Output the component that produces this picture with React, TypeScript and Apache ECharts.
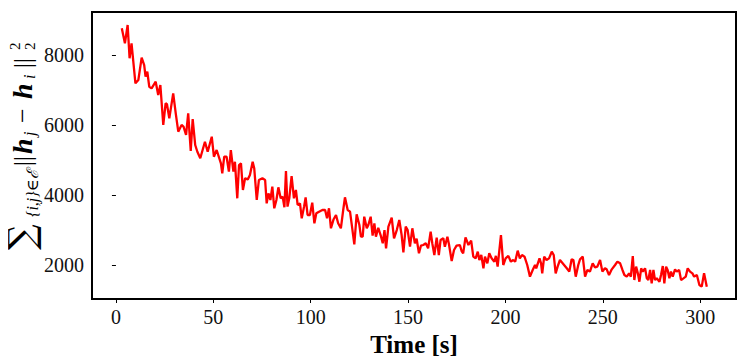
import React, { useEffect, useRef } from "react";
import * as echarts from "echarts";

// [time (s), value] readings from the reference picture
const segmentA: [number, number][] = [
  [3, 8772], [4.6, 8343], [6, 8866], [7, 7914], [8, 8343], [10, 7199], [11.5, 7293], [13.2, 7932],
  [14.5, 7722], [15.2, 7388], [16.1, 7530], [17.1, 7101], [18.3, 7055], [20.4, 7245], [21.7, 6864],
  [22.8, 7150], [24.3, 6006], [25.5, 6627], [26.2, 6600], [27.4, 6197], [29.4, 6912], [30.7, 6340],
  [32, 5815], [33.7, 6006], [34.7, 5960], [36, 5720], [37.1, 6340], [38.4, 5262], [39.4, 6177],
  [40.7, 5433], [41.8, 5241], [43.3, 5053], [45.7, 5528], [47.1, 5241], [49.2, 5671], [50.3, 5098],
  [51.7, 5290], [53.9, 4910], [54.6, 4624], [55.6, 5098], [56.8, 5098], [58, 4670], [59, 5290], [60.3, 4670],
];
const segmentB: [number, number][] = [
  [61.1, 4955], [62.3, 3908], [63.2, 4861], [64.2, 4910], [65.2, 4146], [66.3, 4480], [67.7, 4450],
  [68.8, 4575], [70.2, 4955], [71, 4770], [72.3, 3860], [73.4, 4432], [75.2, 4480], [76.6, 4432],
  [77.4, 3765], [78.3, 4050], [79.3, 3860], [80.3, 4240], [81.3, 3622], [82.4, 3860], [83.4, 4223],
  [84.6, 3908], [85.6, 3955], [86.5, 3651], [87.3, 4689], [88.1, 3670], [89, 3908], [90.2, 4546],
  [91.4, 3908], [92.4, 4146], [93.3, 3717], [94.5, 3765], [95.4, 3336], [96.6, 3670], [97.4, 3936],
  [98.4, 3431], [99.6, 3431], [100.8, 3783], [101.9, 3193], [102.9, 3478], [104.3, 3526], [106, 3574],
  [107.4, 3574], [108.4, 3336], [109.4, 3622], [110.4, 3050], [111.7, 3300], [113, 3431], [114.1, 3193],
  [115.5, 3050], [116.7, 3574], [117.6, 3936], [119, 3574],
];
const segmentC: [number, number][] = [
  [120.2, 3526], [121, 3193], [122.4, 2592], [123.6, 3450], [125, 3145], [125.8, 2810], [126.7, 2810],
  [127.5, 3382], [128.8, 3050], [129.6, 3145], [130.8, 3382], [131.8, 2838], [132.7, 3193], [133.5, 2810],
  [134.7, 3065], [135.9, 2857], [137, 2620], [137.9, 2999], [138.7, 2477], [139.9, 3097], [141.6, 3353],
  [142.8, 2763], [144.2, 2999], [145.5, 3287], [146.7, 2857], [147.6, 2363], [148.8, 3096], [149.8, 2999],
  [151, 2524], [152.2, 3050], [153.5, 2620], [154.4, 2750], [155.6, 2334], [156.6, 2552], [157.8, 2572],
  [159.1, 2620], [160.3, 2477], [161.6, 2953], [162.5, 2600], [163.5, 2286], [164.7, 2782], [165.8, 2286],
  [166.7, 2715], [168.1, 2763], [168.9, 2524], [170.2, 2810], [171, 2592], [172.4, 2114], [173.6, 2429],
  [174.9, 2552], [176.6, 2572], [177.5, 2400], [178.3, 2334],
];
const segmentD: [number, number][] = [
  [179.5, 2790], [181, 2572], [182.4, 2695], [183.5, 2238], [184.7, 2190], [185.8, 2381], [186.6, 2143],
  [187.6, 2286], [188.7, 1905], [189.5, 2238], [190.7, 2048], [191.7, 2334], [192.9, 2190], [194.3, 2095],
  [195.1, 2260], [196, 1953], [197.7, 2858], [198.9, 2000], [200.1, 2190], [201.5, 2260], [202.8, 2095],
  [204, 2143], [205, 2095], [206.3, 2410], [207.4, 2190], [208.5, 2286], [209.8, 2238], [211.2, 2000],
  [212.6, 1667], [214, 1857], [215.2, 2000], [215.8, 1905], [217.5, 2190], [218.3, 2048], [218.9, 1762],
  [219.9, 2238], [221.1, 2143], [222.4, 2190], [223.8, 2381], [224.8, 2286], [225.8, 1762], [226.8, 1953],
];
const segmentE: [number, number][] = [
  [228.0, 2143], [231.5, 1905], [232.8, 1810], [234.0, 2162], [234.9, 2143], [236.1, 1667], [237.4, 2000],
  [238.3, 2162], [239.7, 2238], [240.9, 1667], [242.1, 1857], [243.4, 1810], [244.8, 2048], [246.0, 1933],
  [247.2, 1953], [248.6, 2143], [249.8, 1810], [251.1, 1905], [252.0, 1876], [253.2, 1714], [254.6, 1876],
  [256.3, 2000], [257.5, 2095], [258.9, 2048], [260.1, 1857], [261.1, 1714], [262.3, 1667], [263.5, 1762],
  [264.4, 1667], [265.4, 2257], [266.2, 1571], [267.1, 1953], [268.0, 1762], [268.8, 1523], [269.7, 1905],
  [270.5, 1810], [271.7, 1905], [272.6, 1619], [273.4, 1571], [274.3, 1857], [275.1, 1476], [276.0, 1857],
  [276.8, 1571], [277.7, 1619], [279.1, 1523], [279.9, 1714], [280.8, 1971], [281.6, 1476], [282.5, 1953],
  [283.3, 1857], [284.2, 1619], [285.0, 1810], [285.9, 1667], [287.1, 1876], [288.0, 1810], [289.2, 1857],
  [290.2, 1571], [291.4, 1619], [292.6, 1667], [293.6, 1905], [294.8, 1810], [296.0, 1762], [296.9, 1667],
  [298.3, 1714], [299.6, 1428], [300.8, 1380], [302.0, 1762], [303.4, 1380],
];

const xTickValues = [0, 50, 100, 150, 200, 250, 300];
const yTickValues = [2000, 4000, 6000, 8000];
const xAxisName = "Time [s]";

const SERIF = "'Liberation Serif', 'DejaVu Serif', serif";

export default function App() {
  const ref = useRef<HTMLDivElement>(null);

  useEffect(() => {
    if (!ref.current) return;
    const chart = echarts.init(ref.current, null, { renderer: "svg" });
    const data = [...segmentA, ...segmentB, ...segmentC, ...segmentD, ...segmentE];

    const t = (text: string, x: number, y: number, size: number, extra: any = {}) => ({
      type: "text",
      x,
      y,
      style: {
        text,
        fontFamily: SERIF,
        fontSize: size,
        fill: "#000",
        align: "left",
        verticalAlign: "middle",
        ...extra,
      },
    });

    chart.setOption({
      animation: false,
      grid: {
        left: 92,
        top: 12,
        width: 644,
        height: 287,
        show: true,
        borderColor: "#000",
        borderWidth: 2,
        backgroundColor: "transparent",
      },
      xAxis: {
        type: "value",
        min: -12.3,
        max: 318.4,
        axisLine: { show: false },
        splitLine: { show: false },
        axisTick: {
          show: true,
          customValues: xTickValues,
          length: 4,
          lineStyle: { color: "#000", width: 1 },
        },
        axisLabel: {
          customValues: xTickValues,
          fontFamily: SERIF,
          fontSize: 20,
          color: "#111",
          margin: 8,
          formatter: (v: number) => String(v),
        },
        name: xAxisName,
        nameLocation: "middle",
        nameGap: 32,
        nameTextStyle: { fontFamily: SERIF, fontWeight: "bold", fontSize: 25, color: "#000" },
      },
      yAxis: {
        type: "value",
        min: 1027,
        max: 9239,
        axisLine: { show: false },
        splitLine: { show: false },
        axisTick: {
          show: true,
          customValues: yTickValues,
          length: 4,
          lineStyle: { color: "#000", width: 1 },
        },
        axisLabel: {
          customValues: yTickValues,
          fontFamily: SERIF,
          fontSize: 20,
          color: "#111",
          margin: 8,
          formatter: (v: number) => String(v),
        },
      },
      graphic: [
        {
          type: "group",
          x: 0,
          y: 250,
          rotation: Math.PI / 2,
          children: [
            t("∑", 0, 21, 36, { fontFamily: "'DejaVu Serif', serif" }),
            t("{i,j}∈ℰ", 33, 32, 16, { fontStyle: "italic" }),
            t("||", 84, 22, 25),
            t("h", 96, 22, 28, { fontWeight: "bold", fontStyle: "italic" }),
            t("j", 114, 29, 16, { fontStyle: "italic" }),
            t("−", 127, 22, 26),
            t("h", 151, 22, 28, { fontWeight: "bold", fontStyle: "italic" }),
            t("i", 171, 29, 16, { fontStyle: "italic" }),
            t("||", 182, 22, 25),
            t("2", 200, 15, 15),
            t("2", 200, 30, 15),
          ],
        },
      ],
      series: [
        {
          type: "line",
          data,
          symbol: "none",
          showSymbol: false,
          lineStyle: { color: "#ff0000", width: 2.3 },
        },
      ],
    });

    return () => chart.dispose();
  }, []);

  return <div ref={ref} style={{ width: 748, height: 364, margin: -8 }} />;
}
